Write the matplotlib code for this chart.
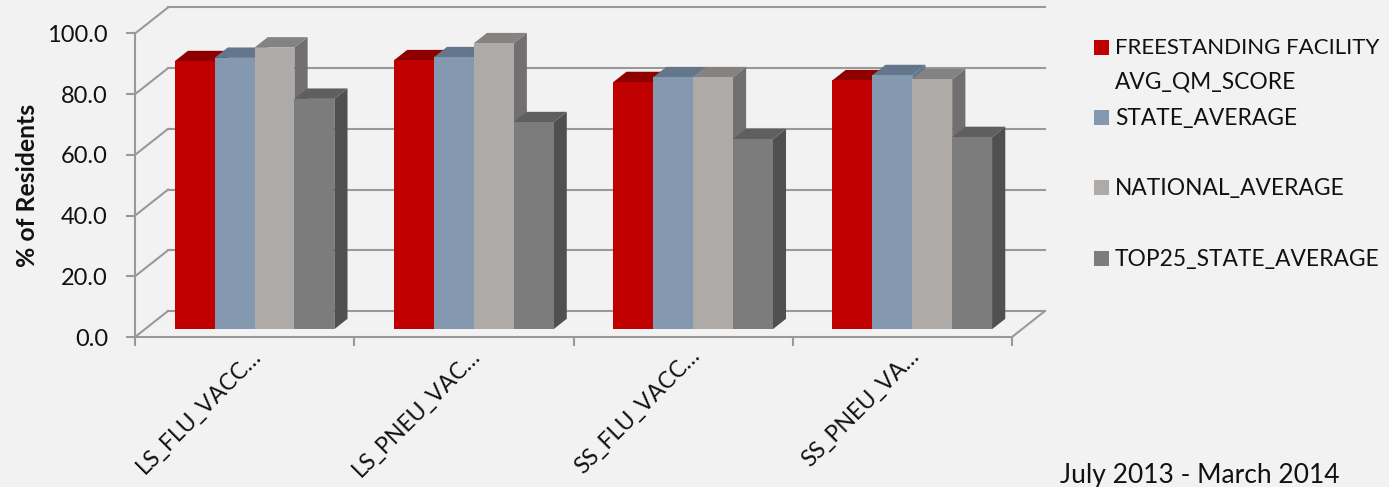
import matplotlib
matplotlib.use('Agg')
import matplotlib.pyplot as plt
from matplotlib.patches import Polygon, Rectangle

categories = ['LS_FLU_VACC…', 'LS_PNEU_VAC…', 'SS_FLU_VACC…', 'SS_PNEU_VA…']
series_names = ['FREESTANDING FACILITY\nAVG_QM_SCORE', 'STATE_AVERAGE', 'NATIONAL_AVERAGE', 'TOP25_STATE_AVERAGE']
freestanding = [88.3, 88.6, 81.4, 82.0]
state_avg = [89.4, 89.6, 83.0, 83.7]
national_avg = [92.8, 94.2, 83.0, 82.4]
top25_avg = [75.9, 68.2, 62.6, 63.3]
y_ticks = [0, 20, 40, 60, 80, 100]

series = [freestanding, state_avg, national_avg, top25_avg]
front = ['#c00000', '#8498b0', '#aeaaa8', '#7c7c7c']
top = ['#8e0000', '#64768c', '#858381', '#5f5f5f']
side = ['#8e0000', '#64768c', '#716f6f', '#505050']
grid = '#999999'

W, H = 1389, 487
plt.rcParams['font.family'] = ['Lato', 'DejaVu Sans']
fig = plt.figure(figsize=(W / 100, H / 100), dpi=100, facecolor='#f2f2f2')
ax = fig.add_axes([135 / W, 1 - 337 / H, 877 / W, 303.5 / H])
ax.set_facecolor('none')
ax.set_xlim(0, 4)
ax.set_ylim(0, 100)

# oblique depth of the fake 3d box, in data units
depth_x = 33 / (877 / 4)
depth_y = 26 / (303.5 / 100)
bar_w = 39.9 / (877 / 4)


def face(pts, color, z):
    ax.add_patch(Polygon(pts, closed=True, fc=color, ec='none', clip_on=False, zorder=z))


# walls
for v in y_ticks:
    ax.plot([0, depth_x], [v, v + depth_y], color=grid, lw=1.5, clip_on=False, zorder=1)
    ax.plot([depth_x, 4 + depth_x], [v + depth_y, v + depth_y], color=grid, lw=1.5, clip_on=False, zorder=1)
ax.plot([4, 4 + depth_x], [0, depth_y], color=grid, lw=1.5, clip_on=False, zorder=1)

# bars sit from 30% to 70% of the depth
d0x, d0y = 0.3 * depth_x, 0.3 * depth_y
d1x, d1y = 0.7 * depth_x, 0.7 * depth_y
for g in range(len(categories)):
    for s in range(len(series)):
        v = series[s][g]
        x0 = g + 0.5 - 2 * bar_w + s * bar_w + d0x
        x1 = x0 + bar_w
        dx = d1x - d0x
        dy = d1y - d0y
        z = 3 + g * 10 + s
        face([(x1, d0y), (x1 + dx, d1y), (x1 + dx, v + d1y), (x1, v + d0y)], side[s], z)
        face([(x0, v + d0y), (x0 + dx, v + d1y), (x1 + dx, v + d1y), (x1, v + d0y)], top[s], z)
        face([(x0, d0y), (x1, d0y), (x1, v + d0y), (x0, v + d0y)], front[s], z + 0.5)

for name in ['top', 'right']:
    ax.spines[name].set_visible(False)
for name in ['left', 'bottom']:
    ax.spines[name].set_color(grid)
    ax.spines[name].set_linewidth(1.5)

ax.set_yticks(y_ticks)
ax.set_yticklabels([f'{v:.1f}' for v in y_ticks], fontsize=17, color='#111111')
ax.set_xticks(range(5))
ax.set_xticklabels([])
ax.tick_params(axis='both', color=grid, width=1.5, length=6.5, pad=13)
ax.set_ylabel('% of Residents', fontsize=17.8, fontweight='bold', color='#111111', labelpad=6)

for g, name in enumerate(categories):
    ax.annotate(name, xy=(g + 0.5, 0), xytext=(4, -6), textcoords='offset points',
                rotation=45, rotation_mode='anchor', ha='right', va='top',
                fontsize=16.6, color='#111111', annotation_clip=False)


# legend with the uneven spacing of the original, laid out in figure pixels
def px_text(x, y, s, size=16.4):
    fig.text(x / W, 1 - y / H, s, va='center', ha='left', fontsize=size, color='#111111')


legend_y = [47.5, 117.5, 187.5, 258.5]
for name, color, y in zip(series_names, front, legend_y):
    fig.add_artist(Rectangle((1094 / W, 1 - (y + 7.5) / H), 15 / W, 15 / H, fc=color, ec='none',
                             transform=fig.transFigure))
    lines = name.split('\n')
    for i, line in enumerate(lines):
        px_text(1115, y + i * 33 + 1, line, size=16 if i == 0 and len(lines) > 1 else 16.4)

px_text(1060, 476, 'July 2013 - March 2014', size=19)

fig.savefig('out.png', dpi=100, facecolor=fig.get_facecolor())
